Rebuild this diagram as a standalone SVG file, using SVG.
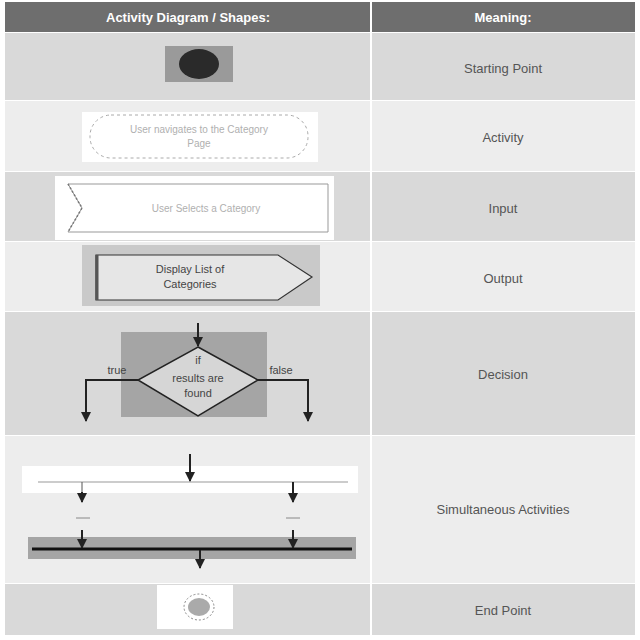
<svg xmlns="http://www.w3.org/2000/svg" width="640" height="640" viewBox="0 0 640 640">
<defs>
<style>
.hdr{font-family:"Liberation Sans",Arial,sans-serif;font-size:13px;font-weight:bold;fill:#ffffff;text-anchor:middle}
.mean{font-family:"Liberation Sans",Arial,sans-serif;font-size:13px;fill:#555555;text-anchor:middle}
.lbl{font-family:"Liberation Sans",Arial,sans-serif;font-size:11px;fill:#444444;text-anchor:middle}
.faint{font-family:"Liberation Sans",Arial,sans-serif;font-size:10px;fill:#b0b0b0;text-anchor:middle}
.dark{fill:#d9d9d9}
.light{fill:#ededed}
.conn{stroke:#222222;stroke-width:2;fill:none}
.thin{stroke:#555555;stroke-width:1;fill:none}
</style>
<marker id="ah" viewBox="0 0 10 10" refX="9" refY="5" markerWidth="5" markerHeight="5" orient="auto">
<path d="M0,0 L10,5 L0,10 z" fill="#222222"/>
</marker>
</defs>
<rect width="640" height="640" fill="#ffffff"/>
<g id="table">
<rect x="5" y="2" width="630" height="30" fill="#6e6e6e"/>
<rect x="5" y="33" width="630" height="67" class="dark"/>
<rect x="5" y="101" width="630" height="70" class="light"/>
<rect x="5" y="172" width="630" height="69" class="dark"/>
<rect x="5" y="242" width="630" height="69" class="light"/>
<rect x="5" y="312" width="630" height="123" class="dark"/>
<rect x="5" y="436" width="630" height="147" class="light"/>
<rect x="5" y="584" width="630" height="51" class="dark"/>
<line x1="371" y1="2" x2="371" y2="635" stroke="#ffffff" stroke-width="2"/>
<text class="hdr" x="188" y="22">Activity Diagram / Shapes:</text>
<text class="hdr" x="503" y="22">Meaning:</text>
<text class="mean" x="503" y="73">Starting Point</text>
<text class="mean" x="503" y="142">Activity</text>
<text class="mean" x="503" y="213">Input</text>
<text class="mean" x="503" y="283">Output</text>
<text class="mean" x="503" y="379">Decision</text>
<text class="mean" x="503" y="514">Simultaneous Activities</text>
<text class="mean" x="503" y="615">End Point</text>
</g>
<g id="start">
<rect x="165" y="46" width="68" height="36" fill="#9a9a9a"/>
<ellipse cx="199" cy="64" rx="20" ry="15" fill="#2a2a2a"/>
</g>
<g id="activity">
<rect x="82" y="112" width="236" height="50" fill="#ffffff"/>
<rect x="90" y="115" width="218" height="43" rx="21" ry="21" fill="#ffffff" stroke="#aaaaaa" stroke-width="1" stroke-dasharray="3,3"/>
<text class="faint" x="199" y="133">User navigates to the Category</text>
<text class="faint" x="199" y="147">Page</text>
</g>
<g id="input">
<rect x="55" y="176" width="279" height="64" fill="#ffffff"/>
<polygon points="68,184 328,184 328,232 68,232 82,208" fill="#ffffff" stroke="#999999" stroke-width="1"/>
<polyline points="68,184 82,208 68,232" fill="none" stroke="#777777" stroke-width="1.5" stroke-dasharray="2,2"/>
<text class="faint" x="206" y="212">User Selects a Category</text>
</g>
<g id="output">
<rect x="82" y="245" width="238" height="61" fill="#c9c9c9"/>
<polygon points="96,255 278,255 312,277 278,300 96,300" fill="#e6e6e6" stroke="#333333" stroke-width="1.2"/>
<line x1="97" y1="255" x2="97" y2="300" stroke="#555555" stroke-width="3"/>
<text class="lbl" x="190" y="273">Display List of</text>
<text class="lbl" x="190" y="288">Categories</text>
</g>
<g id="decision">
<rect x="121" y="332" width="146" height="85" fill="#a5a5a5"/>
<polygon points="198,347 258,380 198,416 138,380" fill="#d6d6d6" stroke="#222222" stroke-width="1.5"/>
<text class="lbl" x="198" y="364">if</text>
<text class="lbl" x="198" y="382">results are</text>
<text class="lbl" x="198" y="397">found</text>
<text class="lbl" x="117" y="374">true</text>
<text class="lbl" x="281" y="374">false</text>
</g>
<g id="fork">
<rect x="22" y="466" width="336" height="27" fill="#ffffff"/>
<line x1="38" y1="482" x2="348" y2="482" stroke="#999999" stroke-width="1"/>
<line x1="76" y1="518" x2="90" y2="518" stroke="#888888" stroke-width="1"/>
<line x1="286" y1="518" x2="300" y2="518" stroke="#888888" stroke-width="1"/>
</g>
<g id="join">
<rect x="28" y="537" width="328" height="22" fill="#a5a5a5"/>
<line x1="32" y1="549" x2="352" y2="549" stroke="#111111" stroke-width="3"/>
</g>
<g id="end">
<rect x="157" y="585" width="76" height="44" fill="#ffffff"/>
<ellipse cx="199" cy="607" rx="15" ry="13" fill="none" stroke="#888888" stroke-width="1" stroke-dasharray="2,2"/>
<ellipse cx="199" cy="607" rx="11" ry="9" fill="#aaaaaa"/>
</g>
<g id="connectors">
<line class="conn" x1="198" y1="323" x2="198" y2="346" marker-end="url(#ah)"/>
<polyline class="conn" points="138,380 86,380 86,421" marker-end="url(#ah)"/>
<polyline class="conn" points="258,380 308,380 308,421" marker-end="url(#ah)"/>
<line class="conn" x1="190" y1="454" x2="190" y2="481" marker-end="url(#ah)"/>
<line class="thin" x1="82" y1="482" x2="82" y2="493"/>
<line class="conn" x1="82" y1="492" x2="82" y2="502" marker-end="url(#ah)"/>
<line class="conn" x1="293" y1="482" x2="293" y2="502" marker-end="url(#ah)"/>
<line class="conn" x1="82" y1="530" x2="82" y2="548" marker-end="url(#ah)"/>
<line class="conn" x1="293" y1="530" x2="293" y2="548" marker-end="url(#ah)"/>
<line class="conn" x1="200" y1="550" x2="200" y2="568" marker-end="url(#ah)"/>
</g>
</svg>
